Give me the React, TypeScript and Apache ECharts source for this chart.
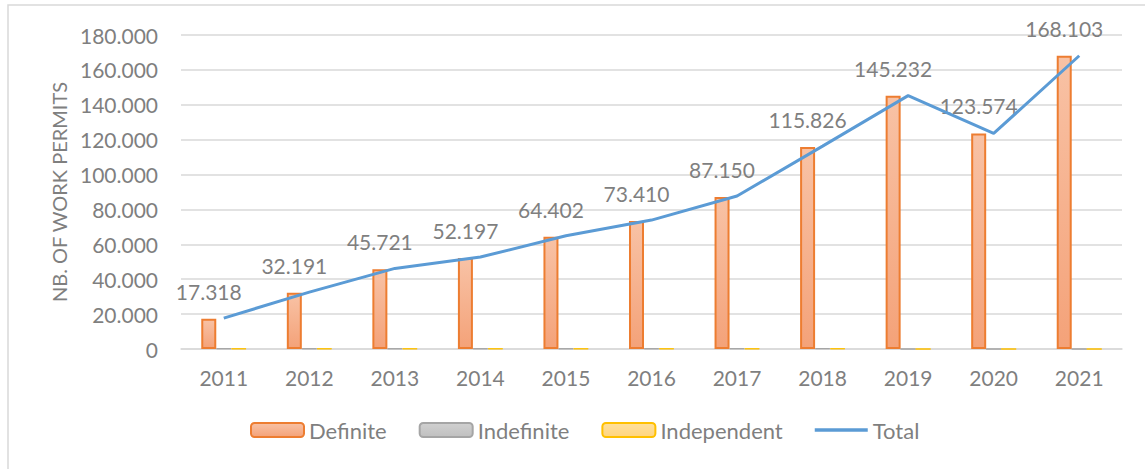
import React, { useEffect, useRef } from "react";
import * as echarts from "echarts";

const years = ["2011", "2012", "2013", "2014", "2015", "2016", "2017", "2018", "2019", "2020", "2021"];
const definite = [17318, 32191, 45721, 52197, 64402, 73410, 87150, 115826, 145232, 123574, 168103];
const indefinite = [350, 300, 300, 300, 300, 300, 350, 400, 0, 0, 0];
const independent = [250, 250, 250, 250, 250, 250, 250, 300, 0, 0, 0];
const total = [17700, 32600, 46200, 52700, 64900, 73900, 87700, 116300, 145232, 123574, 168103];

const fmt = (v: number) => {
  const s = String(Math.round(v));
  return s.replace(/\B(?=(\d{3})+(?!\d))/g, ".");
};

const FONT = "Lato";
const GREY = "#7f7f7f";

export default function App() {
  const ref = useRef<HTMLDivElement>(null);
  useEffect(() => {
    if (!ref.current) return;
    const chart = echarts.init(ref.current, undefined, { renderer: "svg" });
    chart.setOption({
      animation: false,
      backgroundColor: "#ffffff",
      textStyle: { fontFamily: FONT, color: GREY },
      graphic: [
        {
          type: "rect",
          shape: { x: 8, y: 5, width: 1160, height: 480 },
          style: { fill: "none", stroke: "#d9d9d9", lineWidth: 1.5 },
          silent: true,
        },
      ],
      grid: { left: 181, right: 23, top: 35, bottom: 120 },
      legend: {
        left: 250,
        top: 419,
        padding: 0,
        itemWidth: 53,
        itemHeight: 14,
        itemGap: 32,
        textStyle: { fontFamily: FONT, fontSize: 22, color: GREY },
        data: [
          { name: "Definite" },
          { name: "Indefinite" },
          { name: "Independent" },
          { name: "Total", icon: "path://M0,0 L53,0 L53,3.5 L0,3.5 Z", itemStyle: { color: "#5b9bd5" } },
        ],
      },
      xAxis: {
        type: "category",
        data: years,
        axisLine: { show: true, lineStyle: { color: "#d9d9d9", width: 1.5 } },
        axisTick: { show: false },
        axisLabel: { fontFamily: FONT, fontSize: 21, color: GREY, margin: 18 },
      },
      yAxis: {
        type: "value",
        min: 0,
        max: 180000,
        interval: 20000,
        name: "NB. OF WORK PERMITS",
        nameLocation: "middle",
        nameGap: 108,
        nameTextStyle: { fontFamily: FONT, fontSize: 20, color: GREY },
        axisLine: { show: false },
        axisTick: { show: false },
        axisLabel: { fontFamily: FONT, fontSize: 21, color: GREY, margin: 23, formatter: (v: number) => fmt(v) },
        splitLine: { lineStyle: { color: "#d9d9d9", width: 1.5 } },
      },
      series: [
        {
          name: "Definite",
          type: "bar",
          data: definite,
          barWidth: 15,
          barGap: "0%",
          itemStyle: {
            color: new echarts.graphic.LinearGradient(0, 0, 0, 1, [
              { offset: 0, color: "#f8c2a5" },
              { offset: 1, color: "#f4a279" },
            ]),
            borderColor: "#ed7d31",
            borderWidth: 2,
          },
          label: {
            show: true,
            position: "top",
            distance: 17,
            fontFamily: FONT,
            fontSize: 21,
            color: GREY,
            formatter: (p: any) => fmt(p.value),
          },
        },
        {
          name: "Indefinite",
          type: "bar",
          data: indefinite,
          barWidth: 15,
          barGap: "0%",
          itemStyle: {
            color: new echarts.graphic.LinearGradient(0, 0, 0, 1, [
              { offset: 0, color: "#d0d0d0" },
              { offset: 1, color: "#c0c0c0" },
            ]),
            borderColor: "#a5a5a5",
            borderWidth: 1,
          },
        },
        {
          name: "Independent",
          type: "bar",
          data: independent,
          barWidth: 15,
          barGap: "0%",
          itemStyle: {
            color: new echarts.graphic.LinearGradient(0, 0, 0, 1, [
              { offset: 0, color: "#ffe09c" },
              { offset: 1, color: "#ffd580" },
            ]),
            borderColor: "#ffc000",
            borderWidth: 1,
          },
        },
        {
          name: "Total",
          type: "line",
          data: total,
          symbol: "none",
          lineStyle: { color: "#5b9bd5", width: 3 },
          itemStyle: { color: "#5b9bd5" },
        },
      ],
    });
    return () => chart.dispose();
  }, []);
  return (
    <div
      ref={ref}
      style={{ position: "fixed", left: 0, top: 0, width: 1145, height: 469 }}
    />
  );
}
